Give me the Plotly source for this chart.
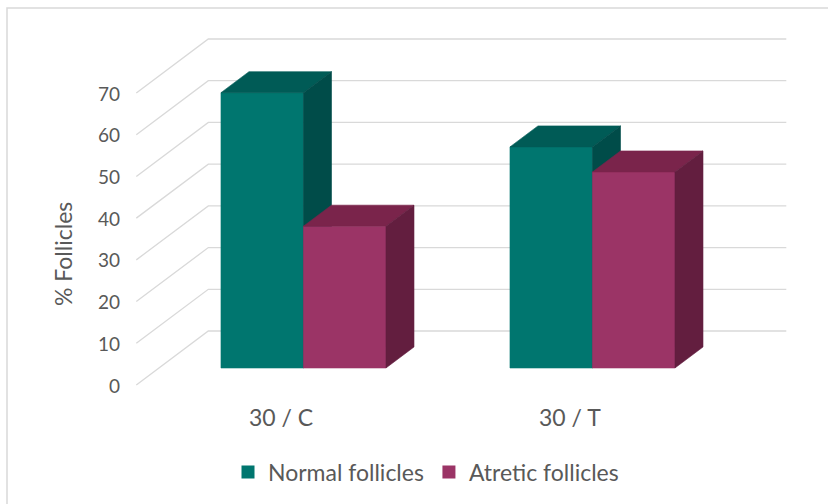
import plotly.graph_objects as go

# ---- data -------------------------------------------------------------
categories = ["30 / C", "30 / T"]
series_names = ["Normal follicles", "Atretic follicles"]
normal_values = [66, 53]
atretic_values = [34, 47]
y_ticks = [0, 10, 20, 30, 40, 50, 60, 70]

# ---- styling ----------------------------------------------------------
FONT = "Lato"
TXT = "#595959"
GRID = "#d9d9d9"
# (front, top, side) shades per series
SHADES = [
    ("#00766f", "#005b56", "#004c49"),
    ("#9b3466", "#7a244b", "#631e3f"),
]

W, H = 828, 504
PX_PER_CAT = 289.0          # horizontal pixels per category step
PX_PER_UNIT = 292.0 / 70.0  # vertical pixels per value unit
ORIGIN_X = 280.8            # pixel x of first category (front plane)
ORIGIN_Y = 385.0            # pixel y of value 0 (front plane)

# oblique depth offset (full depth of the chart box), in axis units
DEPTH_DX = 72.0 / PX_PER_CAT
DEPTH_DY = 54.0 / PX_PER_UNIT
BAR_D0, BAR_D1 = 0.315, 0.704   # bar depth span as fraction of box depth
BAR_W = 82.5 / PX_PER_CAT       # width of one bar in category units

X_MIN = -ORIGIN_X / PX_PER_CAT
X_MAX = X_MIN + W / PX_PER_CAT
Y_TOP = ORIGIN_Y / PX_PER_UNIT
Y_BOT = -(H - ORIGIN_Y) / PX_PER_UNIT

FLOOR_L, FLOOR_R = -0.5, len(categories) - 0.5


def proj(x, v, d):
    """Oblique projection of (x, value, depth) onto the 2-D axes."""
    return x + d * DEPTH_DX, v + d * DEPTH_DY


fig = go.Figure()

# ---- gridlines: front-left diagonal + back wall line -------------------
gx, gy = [], []
for v in y_ticks:
    for (x, d) in [(FLOOR_L, 0), (FLOOR_L, 1), (FLOOR_R, 1)]:
        px, py = proj(x, v, d)
        gx.append(px)
        gy.append(py)
    gx.append(None)
    gy.append(None)
fig.add_trace(go.Scatter(x=gx, y=gy, mode="lines",
                         line=dict(color=GRID, width=1.3),
                         hoverinfo="skip", showlegend=False))


def add_poly(pts, color):
    xs = [p[0] for p in pts] + [pts[0][0]]
    ys = [p[1] for p in pts] + [pts[0][1]]
    fig.add_trace(go.Scatter(x=xs, y=ys, mode="lines", fill="toself",
                             fillcolor=color, line=dict(color=color, width=0.6),
                             hoverinfo="skip", showlegend=False))


# ---- 3-D boxes ---------------------------------------------------------
all_values = [normal_values, atretic_values]
for ci in range(len(categories)):
    for si, vals in enumerate(all_values):
        v = vals[ci]
        front, top, side = SHADES[si]
        x0 = ci - BAR_W + si * BAR_W
        x1 = x0 + BAR_W
        # front face
        add_poly([proj(x0, 0, BAR_D0), proj(x1, 0, BAR_D0),
                  proj(x1, v, BAR_D0), proj(x0, v, BAR_D0)], front)
        # top face
        add_poly([proj(x0, v, BAR_D0), proj(x1, v, BAR_D0),
                  proj(x1, v, BAR_D1), proj(x0, v, BAR_D1)], top)
        # right side face
        add_poly([proj(x1, 0, BAR_D0), proj(x1, 0, BAR_D1),
                  proj(x1, v, BAR_D1), proj(x1, v, BAR_D0)], side)

# ---- legend entries (square swatches) ----------------------------------
for si, name in enumerate(series_names):
    fig.add_trace(go.Scatter(x=[None], y=[None], name=name, mode="markers",
                             marker=dict(color=SHADES[si][0], symbol="square",
                                         size=13),
                             hoverinfo="skip"))

# ---- text: tick labels, category labels, axis title --------------------
ann = []
for v in y_ticks:
    ann.append(dict(x=FLOOR_L, y=v, xref="x", yref="y", text=str(v),
                    showarrow=False, xanchor="right", yanchor="middle",
                    xshift=-14, font=dict(family=FONT, size=19, color=TXT)))
for ci, c in enumerate(categories):
    ann.append(dict(x=ci, y=0, xref="x", yref="y", text=c, showarrow=False,
                    xanchor="center", yanchor="middle", yshift=-32,
                    font=dict(family=FONT, size=23, color=TXT)))
ann.append(dict(x=63 / W, y=1 - 254 / H, xref="paper", yref="paper",
                text="% Follicles", textangle=-90, showarrow=False,
                xanchor="center", yanchor="middle",
                font=dict(family=FONT, size=23, color=TXT)))

fig.update_layout(
    width=W, height=H, autosize=False,
    margin=dict(l=0, r=0, t=0, b=0),
    paper_bgcolor="white", plot_bgcolor="white",
    xaxis=dict(type="linear", range=[X_MIN, X_MAX], visible=False, fixedrange=True),
    yaxis=dict(type="linear", range=[Y_BOT, Y_TOP], visible=False, fixedrange=True),
    annotations=ann,
    showlegend=True,
    legend=dict(orientation="h", x=426 / W, y=1 - 472 / H,
                xanchor="center", yanchor="middle",
                font=dict(family=FONT, size=23, color=TXT),
                itemsizing="trace", itemwidth=30,
                bgcolor="rgba(0,0,0,0)"),
    shapes=[dict(type="rect", xref="paper", yref="paper",
                 x0=7 / W, x1=1.02, y0=-0.02, y1=1 - 8 / H,
                 line=dict(color="#d9d9d9", width=1.5), layer="below")],
)

fig.write_html("out.html")
